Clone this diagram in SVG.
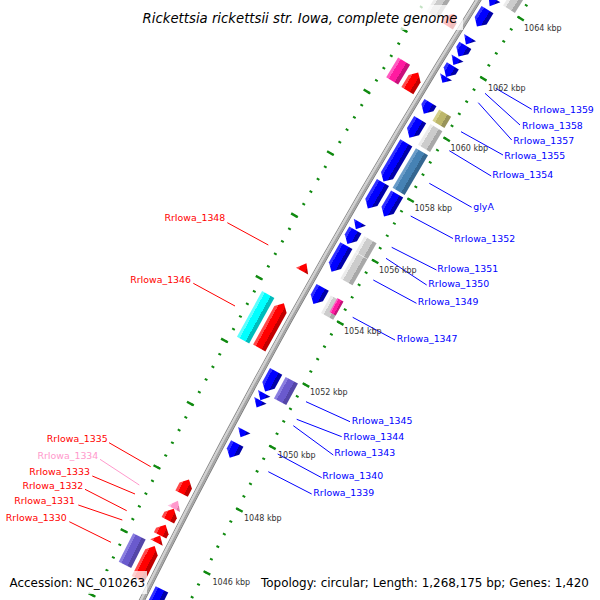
<svg xmlns="http://www.w3.org/2000/svg" width="600" height="600" viewBox="0 0 600 600">
<defs>
<linearGradient id="gB"><stop offset="0" stop-color="#0000a8"/><stop offset=".3" stop-color="#0000a8"/><stop offset=".3" stop-color="#0000ff"/><stop offset=".78" stop-color="#0000ff"/><stop offset=".78" stop-color="#3030ff"/><stop offset="1" stop-color="#3030ff"/></linearGradient>
<linearGradient id="gR"><stop offset="0" stop-color="#c00000"/><stop offset=".3" stop-color="#c00000"/><stop offset=".3" stop-color="#ff0000"/><stop offset=".78" stop-color="#ff0000"/><stop offset=".78" stop-color="#ff4848"/><stop offset="1" stop-color="#ff4848"/></linearGradient>
<linearGradient id="gG"><stop offset="0" stop-color="#a8a8a8"/><stop offset=".3" stop-color="#a8a8a8"/><stop offset=".3" stop-color="#cccccc"/><stop offset=".78" stop-color="#cccccc"/><stop offset=".78" stop-color="#ececec"/><stop offset="1" stop-color="#ececec"/></linearGradient>
<linearGradient id="gK"><stop offset="0" stop-color="#99945a"/><stop offset=".3" stop-color="#99945a"/><stop offset=".3" stop-color="#bdb76b"/><stop offset=".78" stop-color="#bdb76b"/><stop offset=".78" stop-color="#d4cf8a"/><stop offset="1" stop-color="#d4cf8a"/></linearGradient>
<linearGradient id="gS"><stop offset="0" stop-color="#346690"/><stop offset=".3" stop-color="#346690"/><stop offset=".3" stop-color="#4682b4"/><stop offset=".78" stop-color="#4682b4"/><stop offset=".78" stop-color="#6a9cc8"/><stop offset="1" stop-color="#6a9cc8"/></linearGradient>
<linearGradient id="gL"><stop offset="0" stop-color="#5446a8"/><stop offset=".3" stop-color="#5446a8"/><stop offset=".3" stop-color="#6a5acd"/><stop offset=".78" stop-color="#6a5acd"/><stop offset=".78" stop-color="#8a7ee0"/><stop offset="1" stop-color="#8a7ee0"/></linearGradient>
<linearGradient id="gC"><stop offset="0" stop-color="#00bcbc"/><stop offset=".3" stop-color="#00bcbc"/><stop offset=".3" stop-color="#00ffff"/><stop offset=".78" stop-color="#00ffff"/><stop offset=".78" stop-color="#5cffff"/><stop offset="1" stop-color="#5cffff"/></linearGradient>
<linearGradient id="gM"><stop offset="0" stop-color="#c8107a"/><stop offset=".3" stop-color="#c8107a"/><stop offset=".3" stop-color="#ff1aa0"/><stop offset=".78" stop-color="#ff1aa0"/><stop offset=".78" stop-color="#ff5ac0"/><stop offset="1" stop-color="#ff5ac0"/></linearGradient>
<linearGradient id="gP"><stop offset="0" stop-color="#e07aa8"/><stop offset=".3" stop-color="#e07aa8"/><stop offset=".3" stop-color="#ff99cc"/><stop offset=".78" stop-color="#ff99cc"/><stop offset=".78" stop-color="#ffc0e0"/><stop offset="1" stop-color="#ffc0e0"/></linearGradient>
</defs>
<style>
.bl{fill:url(#gB)} .rd{fill:url(#gR)} .gy{fill:url(#gG)} .kh{fill:url(#gK)} .st{fill:url(#gS)} .sl{fill:url(#gL)} .cy{fill:url(#gC)} .mg{fill:url(#gM)} .pk{fill:url(#gP)}
.tk{fill:none;stroke:#108a10}
.lnb{stroke:#0000ff;stroke-width:1}
.lnr{stroke:#ff0000;stroke-width:1}
.lnp{stroke:#ff99cc;stroke-width:1}
.lbl{font-family:"DejaVu Sans","Liberation Sans",sans-serif;font-size:9.4px}
.lb{fill:#0000ff} .lr{fill:#ff0000;text-anchor:end} .lp{fill:#ff99cc;text-anchor:end}
.kb{font-family:"DejaVu Sans","Liberation Sans",sans-serif;font-size:8px;fill:#333333}
.box{fill:#ffffff;fill-opacity:.75}
.big{font-family:"DejaVu Sans","Liberation Sans",sans-serif;font-size:11.95px;fill:#000000}
</style>
<rect x="0" y="0" width="600" height="600" fill="#ffffff"/>
<g id="map" transform="translate(6576.5 3810.7) rotate(209.5)">
  <g id="rulers">
    <path class="tk" d="M7132.68 -460.04A7147.5 7147.5 0 0 1 7132.68 460.04" stroke-width="3" stroke-dasharray="2 12.165" stroke-dashoffset="1"/>
    <path class="tk" d="M7130.18 -459.88A7145 7145 0 0 1 7130.18 459.88" stroke-width="7" stroke-dasharray="2.4 68.4" stroke-dashoffset="1.2"/>
    <path class="tk" d="M7220.70 -465.72A7235.7 7235.7 0 0 1 7220.70 465.72" stroke-width="3" stroke-dasharray="2 12.3398" stroke-dashoffset="1"/>
    <path class="tk" d="M7223.49 -465.90A7238.5 7238.5 0 0 1 7223.49 465.90" stroke-width="7" stroke-dasharray="2.4 69.327" stroke-dashoffset="1.2"/>
  </g>
  <g id="backbone" fill="none">
    <path d="M7178.31 -467.25A7193.5 7193.5 0 0 1 7178.31 467.25" stroke="#8c8c8c" stroke-width="1"/>
    <path d="M7176.81 -467.15A7192 7192 0 0 1 7176.81 467.15" stroke="#d0d0d0" stroke-width="2"/>
    <path d="M7174.82 -467.02A7190 7190 0 0 1 7174.82 467.02" stroke="#a4a4a4" stroke-width="2"/>
    <path d="M7173.32 -466.92A7188.5 7188.5 0 0 1 7173.32 466.92" stroke="#7c7c7c" stroke-width="1"/>
  </g>
  <g id="rev1">
    <g id="fA" transform="rotate(2.5423) translate(7171 0)"><polygon class="bl" points="0,4.5 14,4.5 7,-4.5"/></g>
    <g id="fB" transform="rotate(2.3947) translate(7171 0)"><polygon class="bl" points="0,10 14,10 14,-3 7,-10 0,-3"/></g>
    <g id="fC" transform="rotate(2.1791) translate(7171 0)"><polygon class="bl" points="0,4 14,4 7,-4"/></g>
    <g id="fD" transform="rotate(2.0873) translate(7171 0)"><polygon class="bl" points="0,6.5 14,6.5 14,0.5 7,-6.5 0,0.5"/></g>
    <g id="RrIowa_1359" transform="rotate(1.9876) translate(7171 0)"><polygon class="bl" points="0,4 14,4 7,-4"/></g>
    <g id="RrIowa_1358" transform="rotate(1.8958) translate(7171 0)"><polygon class="bl" points="0,6.5 14,6.5 14,0.5 7,-6.5 0,0.5"/></g>
    <g id="RrIowa_1357" transform="rotate(1.8160) translate(7171 0)"><polygon class="bl" points="0,3.5 14,3.5 7,-3.5"/></g>
    <g id="RrIowa_1355" transform="rotate(1.5525) translate(7171 0)"><polygon class="bl" points="0,6.5 14,6.5 14,0.5 7,-6.5 0,0.5"/></g>
    <g id="RrIowa_1354" transform="rotate(1.3610) translate(7171 0)"><polygon class="bl" points="0,10.5 14,10.5 14,-3.5 7,-10.5 0,-3.5"/></g>
    <g id="glyA" transform="rotate(1.0497) translate(7171 0)"><polygon class="bl" points="0,22.5 14,22.5 14,-15.5 7,-22.5 0,-15.5"/></g>
    <g id="RrIowa_1352" transform="rotate(0.7423) translate(7171 0)"><polygon class="bl" points="0,15 14,15 14,-8 7,-15 0,-8"/></g>
    <g id="RrIowa_1351" transform="rotate(0.4630) translate(7171 0)"><polygon class="bl" points="0,4 14,4 7,-4"/></g>
    <g id="RrIowa_1350" transform="rotate(0.3592) translate(7171 0)"><polygon class="bl" points="0,8 14,8 14,-1 7,-8 0,-1"/></g>
    <g id="RrIowa_1349" transform="rotate(0.1596) translate(7171 0)"><polygon class="bl" points="0,15 14,15 14,-8 7,-15 0,-8"/></g>
    <g id="RrIowa_1347" transform="rotate(-0.1796) translate(7171 0)"><polygon class="bl" points="0,9.5 14,9.5 14,-2.5 7,-9.5 0,-2.5"/></g>
    <g id="RrIowa_1345" transform="rotate(-0.9619) translate(7171 0)"><polygon class="bl" points="0,11.5 14,11.5 14,-4.5 7,-11.5 0,-4.5"/></g>
    <g id="RrIowa_1344" transform="rotate(-1.1015) translate(7171 0)"><polygon class="bl" points="0,4 14,4 7,-4"/></g>
    <g id="RrIowa_1343" transform="rotate(-1.1654) translate(7171 0)"><polygon class="bl" points="0,4 14,4 7,-4"/></g>
    <g id="RrIowa_1340" transform="rotate(-1.4368) translate(7171 0)"><polygon class="bl" points="0,4 14,4 7,-4"/></g>
    <g id="RrIowa_1339" transform="rotate(-1.5885) translate(7171 0)"><polygon class="bl" points="0,8 14,8 14,-1 7,-8 0,-1"/></g>
    <g id="fU" transform="rotate(-2.9335) translate(7171 0)"><polygon class="bl" points="0,12.5 14,12.5 14,-5.5 7,-12.5 0,-5.5"/></g>
  </g>
  <g id="rev2">
    <g id="g1" transform="rotate(2.8048) translate(7153 0)"><rect class="gy" x="0" y="-29.5" width="14" height="59"/></g>
    <g id="kh1" transform="rotate(1.5404) translate(7153 0)"><rect class="kh" x="0" y="-6.5" width="14" height="13"/></g>
    <g id="g2" transform="rotate(1.3604) translate(7153 0)"><rect class="gy" x="0" y="-12" width="14" height="24"/></g>
    <g id="sb1" transform="rotate(1.0483) translate(7153 0)"><rect class="st" x="0" y="-23" width="14" height="46"/></g>
    <g id="b2" transform="rotate(0.7362) translate(7153 0)"><polygon class="bl" points="0,13 14,13 14,-6 7,-13 0,-6"/></g>
    <g id="g3" transform="rotate(0.3441) translate(7153 0)"><rect class="gy" x="0" y="-9" width="14" height="18"/></g>
    <g id="g4" transform="rotate(0.1480) translate(7153 0)"><rect class="gy" x="0" y="-15" width="14" height="30"/></g>
    <g id="g5" transform="rotate(-0.2081) translate(7153 0)"><rect class="gy" x="0" y="-10" width="14" height="20"/></g>
    <g id="mg1" transform="rotate(-0.1840) translate(7153 0)"><rect class="mg" x="0" y="-8" width="7" height="16"/></g>
    <g id="sl1" transform="rotate(-0.9703) translate(7153 0)"><rect class="sl" x="0" y="-12.25" width="14" height="24.5"/></g>
  </g>
  <g id="fwd1">
    <g id="r1" transform="rotate(2.2508) translate(7197 0)"><polygon class="rd" points="0,-7 14,-7 14,0 7,7 0,0"/></g>
    <g id="r2" transform="rotate(1.6742) translate(7197 0)"><polygon class="rd" points="0,-10.5 14,-10.5 14,3.5 7,10.5 0,3.5"/></g>
    <g id="RrIowa_1348" transform="rotate(-0.0358) translate(7197 0)"><polygon class="rd" points="0,-4.5 14,-4.5 7,4.5"/></g>
    <g id="RrIowa_1346" transform="rotate(-0.5687) translate(7197 0)"><polygon class="rd" points="0,-25.5 14,-25.5 14,18.5 7,25.5 0,18.5"/></g>
    <g id="RrIowa_1335" transform="rotate(-2.0202) translate(7197 0)"><polygon class="rd" points="0,-8 14,-8 14,1 7,8 0,1"/></g>
    <g id="RrIowa_1334" transform="rotate(-2.1832) translate(7197 0)"><polygon class="pk" points="0,-4.5 14,-4.5 7,4.5"/></g>
    <g id="RrIowa_1333" transform="rotate(-2.2707) translate(7197 0)"><polygon class="rd" points="0,-6.5 14,-6.5 14,-0.5 7,6.5 0,-0.5"/></g>
    <g id="RrIowa_1332" transform="rotate(-2.4099) translate(7197 0)"><polygon class="rd" points="0,-6 14,-6 14,-1 7,6 0,-1"/></g>
    <g id="RrIowa_1331" transform="rotate(-2.4894) translate(7197 0)"><polygon class="rd" points="0,-4 14,-4 7,4"/></g>
    <g id="RrIowa_1330" transform="rotate(-2.7002) translate(7197 0)"><polygon class="rd" points="0,-18.5 14,-18.5 14,11.5 7,18.5 0,11.5"/></g>
  </g>
  <g id="fwd2">
    <g id="gt" transform="rotate(2.2928) translate(7215 0)"><rect class="gy" x="0" y="-11" width="14" height="22"/></g>
    <g id="mg2" transform="rotate(1.6859) translate(7215 0)"><rect class="mg" x="0" y="-11.5" width="14" height="23"/></g>
    <g id="cy1" transform="rotate(-0.5712) translate(7215 0)"><rect class="cy" x="0" y="-26" width="14" height="52"/></g>
    <g id="sl2" transform="rotate(-2.6657) translate(7215 0)"><rect class="sl" x="0" y="-16" width="14" height="32"/></g>
  </g>
</g>
<g id="connectors">
  <line class="lnb" x1="495.7" y1="88.3" x2="531.7" y2="109.3"/>
  <line class="lnb" x1="485" y1="93.3" x2="520" y2="125"/>
  <line class="lnb" x1="478.3" y1="102.7" x2="511.7" y2="140"/>
  <line class="lnb" x1="461" y1="131.7" x2="503" y2="155"/>
  <line class="lnb" x1="449.3" y1="150.7" x2="491.2" y2="176"/>
  <line class="lnb" x1="429.3" y1="183.3" x2="471.7" y2="207.3"/>
  <line class="lnb" x1="410.7" y1="216" x2="453" y2="238.5"/>
  <line class="lnb" x1="391.7" y1="247.3" x2="436.5" y2="270"/>
  <line class="lnb" x1="386" y1="258.3" x2="426.7" y2="285"/>
  <line class="lnb" x1="373.3" y1="280" x2="416.5" y2="303.3"/>
  <line class="lnb" x1="352.7" y1="317.3" x2="395" y2="340"/>
  <line class="lnb" x1="306" y1="401.7" x2="350" y2="421.7"/>
  <line class="lnb" x1="296.7" y1="419.3" x2="341.7" y2="436.7"/>
  <line class="lnb" x1="293.3" y1="425.7" x2="333.3" y2="455"/>
  <line class="lnb" x1="277.7" y1="454" x2="321.7" y2="477.7"/>
  <line class="lnb" x1="268.3" y1="471.7" x2="311.7" y2="494"/>
  <line class="lnr" x1="227.3" y1="222.7" x2="268.3" y2="245"/>
  <line class="lnr" x1="193.3" y1="283.3" x2="235" y2="306"/>
  <line class="lnr" x1="109" y1="442.7" x2="150.7" y2="466.7"/>
  <line class="lnp" x1="100" y1="459.3" x2="139.3" y2="485"/>
  <line class="lnr" x1="92.3" y1="476" x2="135" y2="494"/>
  <line class="lnr" x1="85" y1="489.3" x2="126.7" y2="510.7"/>
  <line class="lnr" x1="78.3" y1="505" x2="122.3" y2="520"/>
  <line class="lnr" x1="69.3" y1="521.7" x2="111" y2="542.3"/>
</g>
<g id="labels" class="lbl">
  <text class="lb" x="533" y="113.3">RrIowa_1359</text>
  <text class="lb" x="522" y="128.8">RrIowa_1358</text>
  <text class="lb" x="513.3" y="143.8">RrIowa_1357</text>
  <text class="lb" x="504.3" y="158.8">RrIowa_1355</text>
  <text class="lb" x="492.3" y="177.8">RrIowa_1354</text>
  <text class="lb" x="473.3" y="210.3">glyA</text>
  <text class="lb" x="454.3" y="242">RrIowa_1352</text>
  <text class="lb" x="437.3" y="272">RrIowa_1351</text>
  <text class="lb" x="428.3" y="287">RrIowa_1350</text>
  <text class="lb" x="417.7" y="305.3">RrIowa_1349</text>
  <text class="lb" x="396.7" y="342">RrIowa_1347</text>
  <text class="lb" x="351.7" y="423.7">RrIowa_1345</text>
  <text class="lb" x="343.3" y="440.3">RrIowa_1344</text>
  <text class="lb" x="334.3" y="456.3">RrIowa_1343</text>
  <text class="lb" x="322.3" y="479.3">RrIowa_1340</text>
  <text class="lb" x="313.3" y="496">RrIowa_1339</text>
  <text class="lr" x="225.3" y="221.3">RrIowa_1348</text>
  <text class="lr" x="191" y="283">RrIowa_1346</text>
  <text class="lr" x="107.7" y="442">RrIowa_1335</text>
  <text class="lp" x="98.3" y="458.7">RrIowa_1334</text>
  <text class="lr" x="90" y="475.3">RrIowa_1333</text>
  <text class="lr" x="83.3" y="488.7">RrIowa_1332</text>
  <text class="lr" x="75" y="504.3">RrIowa_1331</text>
  <text class="lr" x="66.7" y="521">RrIowa_1330</text>
</g>
<g id="ticklabels" class="kb">
  <text x="524" y="31">1064 kbp</text>
  <text x="488" y="90.5">1062 kbp</text>
  <text x="450.5" y="151">1060 kbp</text>
  <text x="414.5" y="211">1058 kbp</text>
  <text x="379" y="273">1056 kbp</text>
  <text x="344" y="334">1054 kbp</text>
  <text x="310" y="395">1052 kbp</text>
  <text x="278" y="458">1050 kbp</text>
  <text x="244" y="521">1048 kbp</text>
  <text x="212.5" y="585">1046 kbp</text>
</g>
<g id="title">
  <rect class="box" x="138" y="5" width="325" height="25"/>
  <text x="300" y="22.5" text-anchor="middle" font-family="DejaVu Sans, Liberation Sans, sans-serif" font-style="italic" font-size="13.25" fill="#000000">Rickettsia rickettsii str. Iowa, complete genome</text>
</g>
<g id="legend">
  <rect class="box" x="5" y="571" width="142" height="23"/>
  <rect class="box" x="257" y="571" width="337" height="23"/>
  <text class="big" x="9.5" y="586.5">Accession: NC_010263</text>
  <text class="big" x="261" y="586.5">Topology: circular; Length: 1,268,175 bp; Genes: 1,420</text>
</g>
</svg>
